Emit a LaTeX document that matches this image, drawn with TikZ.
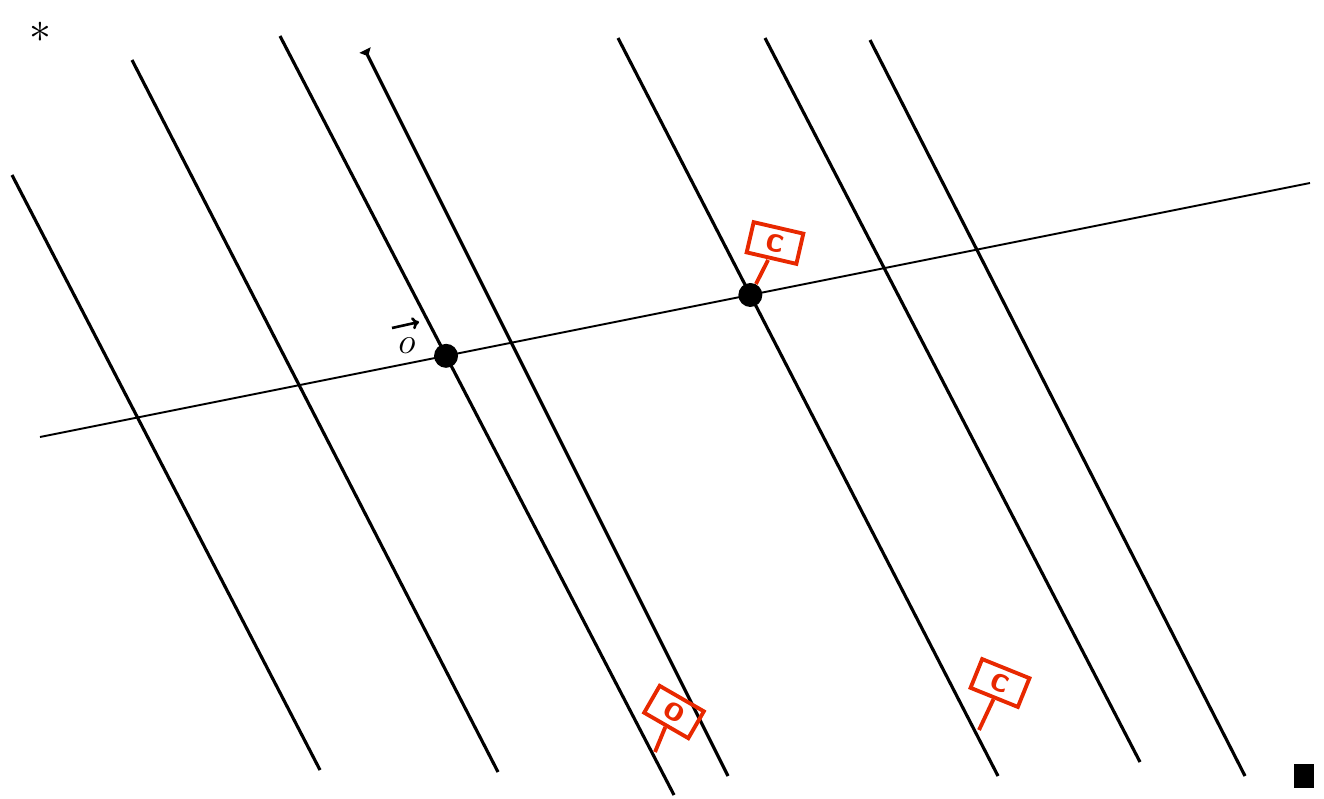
\documentclass[tikz,border=0pt]{standalone}
\usetikzlibrary{arrows.meta}
\definecolor{signred}{RGB}{232,40,0}
\begin{document}
\begin{tikzpicture}[x=0.02cm,y=-0.02cm,
    rail/.style={line width=1.8pt},
    dot/.style={circle,fill=black,inner sep=0pt,minimum size=0.48cm},
    sign/.style={draw=signred,line width=2.2pt,text=signred,inner sep=0pt,
                 minimum width=1.02cm,minimum height=0.62cm,font=\huge\bfseries\sffamily},
    post/.style={draw=signred,line width=2.2pt}]
    \useasboundingbox (0,0) rectangle (1324,798);

    % the slanted lines
    \coordinate (a1) at (12,175);   \coordinate (b1) at (320,770);
    \coordinate (a2) at (132,60);   \coordinate (b2) at (498,772);
    \coordinate (a3) at (280,36);   \coordinate (b3) at (674,795);
    \coordinate (a4) at (365,50);   \coordinate (b4) at (728,776);
    \coordinate (a5) at (618,38);   \coordinate (b5) at (998,776);
    \coordinate (a6) at (765,38);   \coordinate (b6) at (1140,762);
    \coordinate (a7) at (870,40);   \coordinate (b7) at (1245,776);
    \coordinate (ha) at (40,437);   \coordinate (hb) at (1310,183);

    \draw[rail] (a1) -- (b1);
    \draw[rail] (a2) -- (b2);
    \draw[rail] (a3) -- (b3);
    \draw[rail,{Triangle[reversed,length=4pt,width=7pt]}-] (a4) -- (b4);
    \draw[rail] (a5) -- (b5);
    \draw[rail] (a6) -- (b6);
    \draw[rail] (a7) -- (b7);
    \draw[line width=1.1pt] (ha) -- (hb);

    % points on the line
    \node[dot] (o) at (intersection of a3--b3 and ha--hb) {};
    \node[dot] (c) at (intersection of a5--b5 and ha--hb) {};
    \node[font=\huge] (olab) at (407,346) {$o$};
    \coordinate (arra) at (392,328);
    \coordinate (arrb) at (419,322);
    \draw[line width=1.5pt,-{To[length=4pt,width=7pt]}] (arra) -- (arrb);

    % signs
    \node[sign,rotate=-13] (s1) at (775,243) {c};
    \draw[post] (s1.south) ++(-3,0) -- (c);
    \node[sign,rotate=-30] (s2) at (674,712) {o};
    \coordinate (p2) at (655,752);
    \draw[post] (s2.south) -- (p2);
    \node[sign,rotate=-22] (s3) at (1000,683) {c};
    \coordinate (p3) at (979,730);
    \draw[post] (s3.south) -- (p3);

    % marks in the corners
    \node[font=\Huge,inner sep=0pt] (star) at (40,32) {$\ast$};
    \fill (1294,764) rectangle (1314,788);
\end{tikzpicture}
\end{document}
